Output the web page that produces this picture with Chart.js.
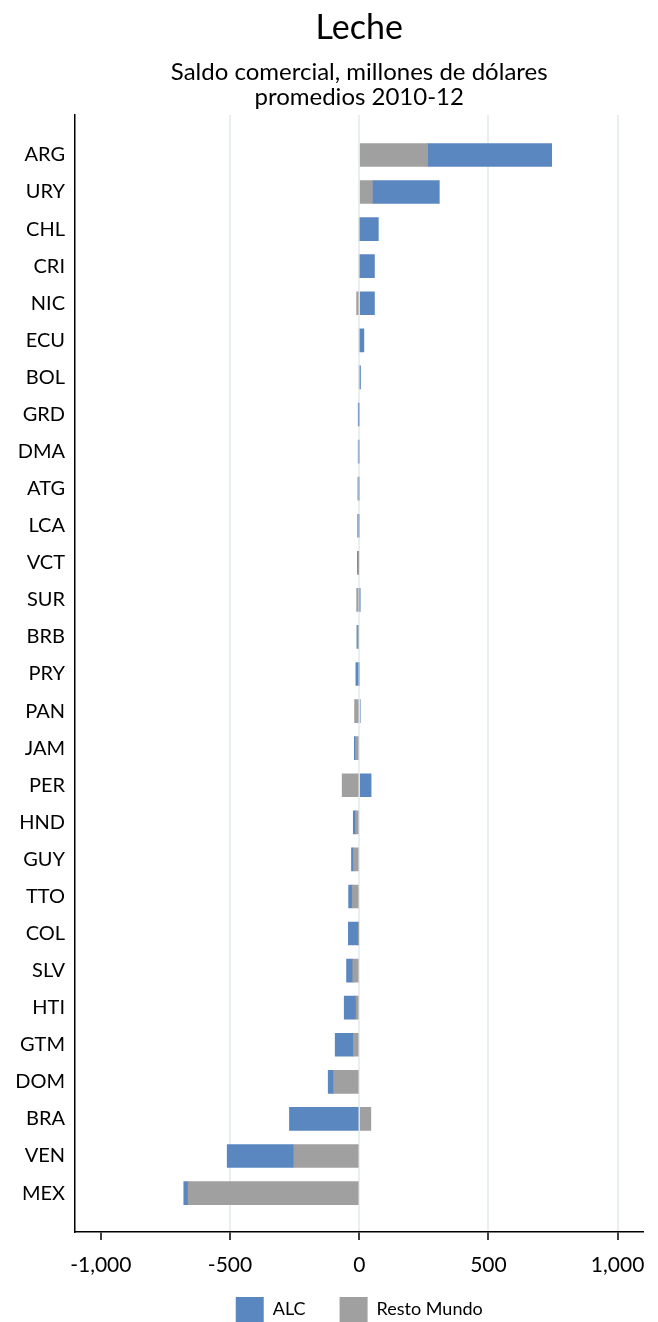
<!DOCTYPE html>
<html>
<head>
<meta charset="utf-8">
<title>Leche</title>
<script src="https://cdn.jsdelivr.net/npm/chart.js@4"></script>
<style>
  html, body { margin: 0; padding: 0; background: #fff; }
  #wrap { width: 658px; height: 1322px; }
</style>
</head>
<body>
<div id="wrap"><canvas id="barChart"></canvas></div>
<script>
// Saldo comercial de leche, millones de dolares, promedios 2010-12
const countries = ['ARG','URY','CHL','CRI','NIC','ECU','BOL','GRD','DMA','ATG','LCA','VCT','SUR','BRB','PRY',
                   'PAN','JAM','PER','HND','GUY','TTO','COL','SLV','HTI','GTM','DOM','BRA','VEN','MEX'];
const alc   = [480, 259, 74, 59, 59, 18, 5, -3, -4, -5, -6, -5, 2, -4, -13,
               4, -5, 46, -9, -8, -14, -40, -24, -46, -71, -21, -270, -258, -17];
const resto = [265, 51, 0, 0, -10, 0, 0, 0, 0, 0, 0, -2, -10, -5, 0,
               -18, -14, -66, -14, -22, -27, -2, -25, -12, -22, -99, 45, -253, -662];
const xTicks = [-1000, -500, 0, 500, 1000];

// bars sit on a numeric index axis so the empty space at both ends can match
const points = vals => vals.map((v, i) => ({ y: i, x: v }));

const FONT = "Lato, 'Open Sans', sans-serif";

// x tick labels hang down into the legend band; don't clip them to the axis box
const unclipTicks = {
    id: 'unclipTicks',
    afterLayout(chart) { chart.scales.x.bottom = chart.height; }
};

document.addEventListener("DOMContentLoaded", function() {
    const canvas = document.getElementById("barChart");
    new Chart(canvas, {
        type: 'bar',
        data: {
            datasets: [
                { label: 'Resto Mundo', data: points(resto), backgroundColor: '#a0a0a0' },
                { label: 'ALC', data: points(alc), backgroundColor: '#5b87c1' }
            ]
        },
        plugins: [unclipTicks],
        options: {
            indexAxis: 'y',
            responsive: true,
            maintainAspectRatio: false,
            animation: false,
            barThickness: 23,
            layout: { padding: { top: 0, right: 13, bottom: -10, left: 0 } },
            plugins: {
                title: {
                    display: true, fullSize: false, text: 'Leche', color: '#000',
                    font: { family: FONT, size: 34, weight: 'normal', lineHeight: 1.2 },
                    padding: { top: 8, bottom: 6 }
                },
                subtitle: {
                    display: true, fullSize: false, text: ['Saldo comercial, millones de dólares', 'promedios 2010-12'], color: '#000',
                    font: { family: FONT, size: 24, weight: 'normal', lineHeight: 1.04 },
                    padding: { top: 4.7, bottom: 5.5 }
                },
                legend: {
                    position: 'bottom', fullSize: false, reverse: true,
                    labels: { boxWidth: 28, boxHeight: 25, padding: 34, color: '#000',
                              font: { family: FONT, size: 18 } }
                },
                tooltip: { enabled: false }
            },
            scales: {
                x: {
                    stacked: true, min: -1100, max: 1100,
                    afterBuildTicks: s => { s.ticks = xTicks.map(v => ({ value: v })); },
                    afterFit: s => { s.height = 31; },
                    grid: {
                        color: c => (c.tick && c.tick.value === -1000) ? 'rgba(0,0,0,0)' : '#e9eef1',
                        lineWidth: 2, tickColor: '#000', tickLength: 8, tickWidth: 1.5
                    },
                    border: { color: '#000', width: 1.5 },
                    ticks: {
                        color: '#000', padding: 13, maxRotation: 0,
                        font: { family: FONT, size: 21 },
                        callback: v => v.toLocaleString('en-US')
                    }
                },
                y: {
                    type: 'linear', offset: false, stacked: true, reverse: true, min: -1.08, max: 29.05,
                    afterBuildTicks: s => { s.ticks = countries.map((c, i) => ({ value: i })); },
                    afterFit: s => { s.width = 75; },
                    grid: { display: false, drawTicks: false },
                    border: { color: '#000', width: 1.5 },
                    ticks: {
                        color: '#000', padding: 10, autoSkip: false,
                        font: { family: FONT, size: 20 },
                        callback: v => countries[v]
                    }
                }
            }
        }
    });
});
</script>
</body>
</html>
